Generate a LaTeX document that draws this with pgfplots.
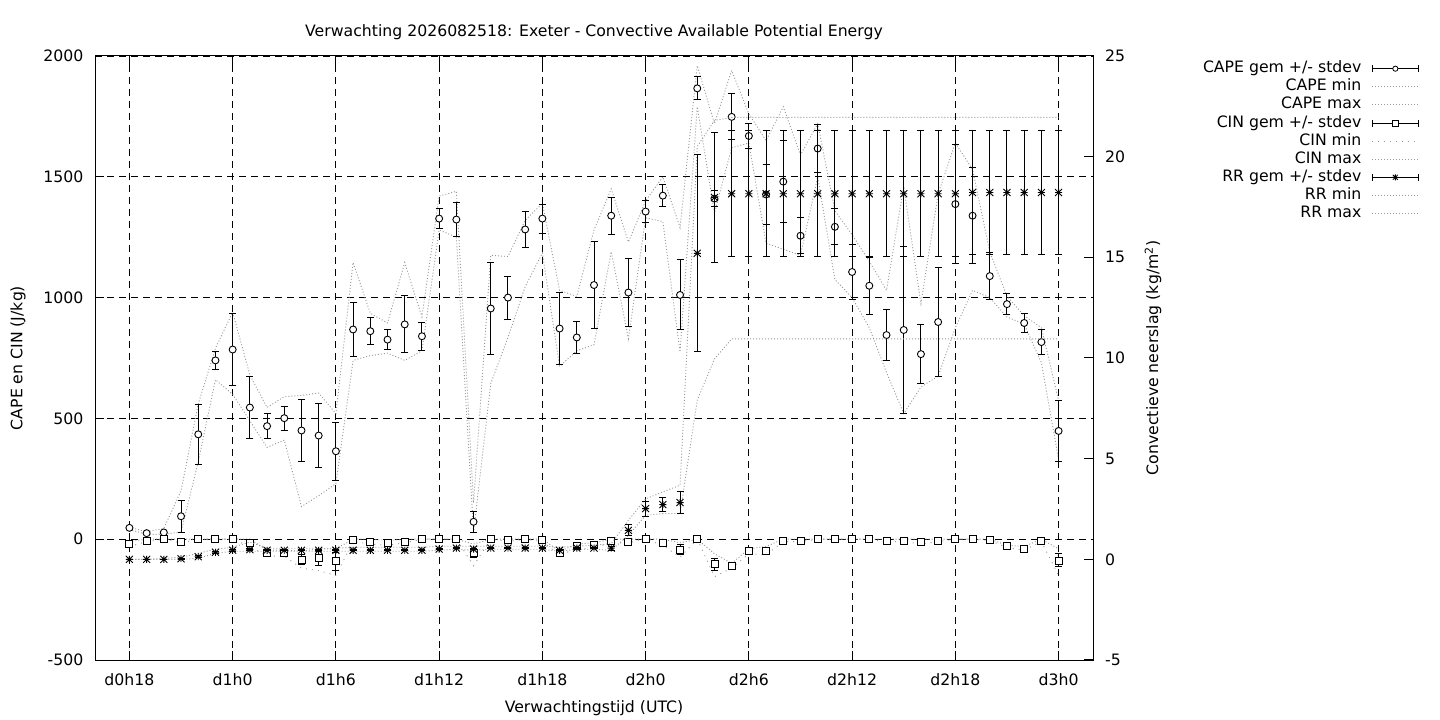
\documentclass[border=0pt]{standalone}
\usepackage{fontspec}
\setmainfont{DejaVu Sans}
\usepackage{pgfplots}
\usepackage{pgfplotstable}
\pgfplotsset{compat=1.18}

\pgfdeclareplotmark{gpstar}{%
  \pgfpathmoveto{\pgfqpoint{-\pgfplotmarksize}{0pt}}\pgfpathlineto{\pgfqpoint{\pgfplotmarksize}{0pt}}%
  \pgfpathmoveto{\pgfqpoint{0pt}{-\pgfplotmarksize}}\pgfpathlineto{\pgfqpoint{0pt}{\pgfplotmarksize}}%
  \pgfpathmoveto{\pgfqpoint{-\pgfplotmarksize}{-\pgfplotmarksize}}\pgfpathlineto{\pgfqpoint{\pgfplotmarksize}{\pgfplotmarksize}}%
  \pgfpathmoveto{\pgfqpoint{-\pgfplotmarksize}{\pgfplotmarksize}}\pgfpathlineto{\pgfqpoint{\pgfplotmarksize}{-\pgfplotmarksize}}%
  \pgfusepathqstroke}

\definecolor{dotgray}{gray}{0.6}

% h cape ce cmin cmax cin cie nmin nmax rr re rmin rmax
\pgfplotstableread{
h  cape ce  cmin cmax cin  cie nmin nmax rr    re   rmin  rmax
18 47   5   40   50   -21  8   -30  -10  0     0    0     0
19 25   3   20   30   -8   3   -10  0    0     0    0     0
20 28   3   20   45   0    2   0    0    0     0    0     0.05
21 95   67  30   200  -12  4   -15  0    0.03  0.02 0     0.1
22 434  124 320  560  0    0   0    0    0.13  0.05 0.05  0.3
23 740  38  660  790  0    0   0    0    0.35  0.05 0.3   0.5
24 785  149 600  940  0    0   0    0    0.45  0.05 0.4   0.6
25 545  128 490  680  -15  10  -30  0    0.48  0.05 0.4   0.86
26 468  52  380  545  -57  8   -70  -45  0.45  0.03 0.4   0.55
27 501  50  410  590  -57  5   -70  -45  0.45  0.03 0.4   0.55
28 450  128 135  595  -84  22  -120 -50  0.45  0.03 0.4   0.55
29 429  133 180  605  -79  28  -130 -40  0.45  0.03 0.4   0.55
30 364  119 230  520  -91  38  -150 -40  0.45  0.03 0.4   0.55
31 868  113 740  1145 -5   3   -10  0    0.45  0.03 0.4   0.6
32 861  55  760  935  -12  5   -20  0    0.45  0.03 0.4   0.6
33 826  42  770  895  -17  6   -25  -5   0.45  0.03 0.4   0.6
34 889  118 740  1145 -10  4   -15  0    0.45  0.03 0.4   0.6
35 840  57  780  920  0    0   0    0    0.45  0.03 0.4   0.6
36 1327 40  1280 1420 0    0   0    0    0.51  0.03 0.45  0.65
37 1323 70  1250 1440 0    0   0    0    0.56  0.03 0.5   0.65
38 72   43  30   150  -57  18  -110 -20  0.51  0.03 0.45  0.65
39 955  190 645  1175 0    0   0    0    0.56  0.03 0.5   0.65
40 1000 89  835  1170 -5   3   -10  0    0.56  0.03 0.5   0.65
41 1282 75  1045 1320 0    0   0    0    0.56  0.03 0.5   0.65
42 1327 60  1185 1390 -4   3   -10  0    0.56  0.03 0.5   0.65
43 872  148 715  1030 -57  5   -65  -50  0.45  0.03 0.4   0.6
44 835  67  780  1005 -30  5   -40  -20  0.56  0.03 0.5   0.65
45 1052 181 805  1280 -25  5   -35  -15  0.56  0.03 0.5   0.7
46 1339 77  1190 1450 -8   3   -15  0    0.56  0.1  0.45  0.78
47 1021 141 830  1230 -10  4   -15  0    1.44  0.27 1.19  1.94
48 1356 45  1330 1400 0    0   0    0    2.52  0.37 2.19  3.0
49 1422 46  1315 1500 -14  5   -25  0    2.72  0.36 2.27  3.35
50 1011 145 775  1290 -43  22  -75  -15  2.82  0.54 2.27  3.68
51 1866 48  1790 1960 0    0   0    0    15.2  4.9  7.9   20.5
52 1410 32  1350 1720 -103 25  -155 -60  17.97 3.23 9.95  21.8
53 1748 95  1620 1940 -109 5   -120 -100 18.16 3.14 10.95 21.95
54 1669 50  1640 1760 -50  5   -60  -40  18.16 3.14 10.95 21.95
55 1427 123 1225 1650 -47  10  -65  -30  18.16 3.14 10.95 21.95
56 1480 170 1200 1790 -7   3   -10  0    18.16 3.14 10.95 21.95
57 1256 74  1175 1590 -7   3   -10  0    18.16 3.14 10.95 21.95
58 1617 99  1500 1720 0    0   0    0    18.16 3.14 10.95 21.95
59 1293 75  1075 1360 0    0   0    0    18.16 3.14 10.95 21.95
60 1106 114 1000 1260 0    0   0    0    18.16 3.14 10.95 21.95
61 1049 118 875  1150 0    0   0    0    18.16 3.14 10.95 21.95
62 845  107 690  1030 -7   3   -10  0    18.16 3.14 10.95 21.95
63 866  346 520  1460 -7   3   -10  0    18.16 3.14 10.95 21.95
64 766  122 630  975  -12  4   -20  0    18.16 3.14 10.95 21.95
65 899  225 675  1430 -7   3   -10  0    18.16 3.14 10.95 21.95
66 1387 246 875  1640 0    0   0    0    18.16 3.14 10.95 21.95
67 1339 199 1030 1530 0    0   0    0    18.22 3.1  10.95 21.95
68 1089 98  1000 1190 -3   2   -5   0    18.22 3.1  10.95 21.95
69 973  43  920  1005 -30  5   -35  -25  18.22 3.1  10.95 21.95
70 895  38  890  925  -39  5   -45  -30  18.22 3.1  10.95 21.95
71 816  51  730  875  -7   3   -10  0    18.22 3.1  10.95 21.95
72 448  128 330  575  -88  27  -150 -40  18.22 3.1  10.95 21.95
}\data

\pgfplotsset{
  dotline/.style={no marks, color=dotgray, line width=0.9bp, dash pattern=on 1bp off 2bp},
  legdot/.style={legend image code/.code={\path[draw=none] (0bp,0bp) -- (57bp,0bp); \draw[dotgray, solid, line width=0.9bp, dash pattern=on 1bp off 2bp] (11bp,0bp) -- (57bp,0bp);}},
  legdotwide/.style={legend image code/.code={\path[draw=none] (0bp,0bp) -- (57bp,0bp); \draw[dotgray, solid, line width=0.9bp, dash pattern=on 1bp off 5bp] (11bp,0bp) -- (57bp,0bp);}},
  legbar/.style={legend image code/.code={%
      \path[draw=none] (0bp,0bp) -- (57bp,0bp);
      \draw[black, solid, line width=1bp] (11bp,0bp) -- (57bp,0bp);
      \draw[black, solid, line width=1bp] (11bp,-3.5bp) -- (11bp,3.5bp);
      \draw[black, solid, line width=1bp] (57bp,-3.5bp) -- (57bp,3.5bp);
      #1}},
  errstyle/.style={error bars/.cd, y dir=both, y explicit,
      error bar style={line width=1bp, black},
      error mark options={rotate=90, line width=1bp, black, mark size=3.5bp}},
}

\begin{document}
\fontsize{15.7bp}{18.8bp}\selectfont
\begin{tikzpicture}
\useasboundingbox (0,0) rectangle (1440bp,720bp);
\begin{axis}[
  at={(95bp,60bp)}, anchor=south west,
  scale only axis, width=998bp, height=604bp,
  xmin=16, xmax=74, ymin=-500, ymax=2000,
  xtick={18,24,30,36,42,48,54,60,66,72},
  xticklabels={d0h18,d1h0,d1h6,d1h12,d1h18,d2h0,d2h6,d2h12,d2h18,d3h0},
  ytick={-500,0,500,1000,1500,2000},
  yticklabels={-500,0,500,1000,1500,2000},
  ytick pos=left, xtick pos=both,
  tick align=inside, major tick length=9bp,
  tick style={black, line width=1bp},
  axis line style={black, line width=1bp},
  grid=major,
  major grid style={black, line width=0.8bp, dash pattern=on 7bp off 5bp},
  yticklabel style={anchor=east, inner sep=0pt, xshift=-11.5bp},
  xticklabel style={anchor=base, inner sep=0pt, yshift=-25bp},
  title={Verwachting 2026082518: Exeter - Convective Available Potential Energy},
  title style={at={(axis description cs:0.5,1.0232)}, anchor=base, inner sep=0pt},
  xlabel={Verwachtingstijd (UTC)},
  xlabel style={at={(axis description cs:0.5,-0.0877)}, anchor=base, inner sep=0pt},
  ylabel={CAPE en CIN (J/kg)},
  ylabel style={at={(axis description cs:-0.0772,0.5)}, anchor=center, inner sep=0pt},
]
\addplot[dotline] table[x=h, y=cmin] {\data};
\addplot[dotline] table[x=h, y=cmax] {\data};
\addplot[dotline, dash pattern=on 1bp off 5bp] table[x=h, y=nmin] {\data};
\addplot[dotline] table[x=h, y=nmax] {\data};
\addplot[only marks, mark=*, mark size=3.5bp, mark options={draw=black, fill=white, line width=0.9bp}, errstyle]
  table[x=h, y=cape, y error=ce] {\data};
\addplot[only marks, mark=square*, mark size=3.5bp, mark options={draw=black, fill=white, line width=0.9bp}, errstyle]
  table[x=h, y=cin, y error=cie] {\data};
\end{axis}

\begin{axis}[
  at={(95bp,60bp)}, anchor=south west,
  scale only axis, width=998bp, height=604bp,
  xmin=16, xmax=74, ymin=-5, ymax=25,
  hide x axis, axis y line*=right,
  ytick={-5,0,5,10,15,20,25},
  yticklabels={-5,0,5,10,15,20,25},
  tick align=inside, major tick length=9bp,
  tick style={black, line width=1bp},
  axis line style={black, line width=1bp},
  yticklabel style={anchor=west, inner sep=0pt, xshift=12bp},
  ylabel={Convectieve neerslag (kg/m\textsuperscript{2})},
  ylabel style={at={(axis description cs:1.0601,0.5)}, anchor=center, inner sep=0pt},
  legend plot pos=right,
  legend cell align=right,
  legend style={at={(axis description cs:1.3267,0.9917)}, anchor=north east,
     draw=none, fill=none, inner sep=0pt, row sep=3.1bp,
     nodes={inner sep=0pt, text height=11.5bp, text depth=3.5bp}},
]
\addlegendimage{legbar={\draw[black, solid, fill=white, line width=0.8bp] (34bp,0bp) circle (2.6bp);}}
\addlegendentry{CAPE gem +/- stdev}
\addlegendimage{legdot}
\addlegendentry{CAPE min}
\addlegendimage{legdot}
\addlegendentry{CAPE max}
\addlegendimage{legbar={\draw[black, solid, fill=white, line width=0.8bp] (31bp,-3bp) rectangle (37bp,3bp);}}
\addlegendentry{CIN gem +/- stdev}
\addlegendimage{legdotwide}
\addlegendentry{CIN min}
\addlegendimage{legdot}
\addlegendentry{CIN max}
\addlegendimage{legbar={\draw[black, solid, line width=0.8bp] (31bp,0bp) -- (37bp,0bp) (34bp,-3bp) -- (34bp,3bp) (31.5bp,-2.5bp) -- (36.5bp,2.5bp) (31.5bp,2.5bp) -- (36.5bp,-2.5bp);}}
\addlegendentry{RR gem +/- stdev}
\addlegendimage{legdot}
\addlegendentry{RR min}
\addlegendimage{legdot}
\addlegendentry{RR max}

\addplot[dotline, forget plot] table[x=h, y=rmin] {\data};
\addplot[dotline, forget plot] table[x=h, y=rmax] {\data};
\addplot[forget plot, only marks, mark=gpstar, mark size=3.5bp, mark options={draw=black, line width=0.9bp}, errstyle]
  table[x=h, y=rr, y error=re] {\data};
\end{axis}
\end{tikzpicture}
\end{document}
